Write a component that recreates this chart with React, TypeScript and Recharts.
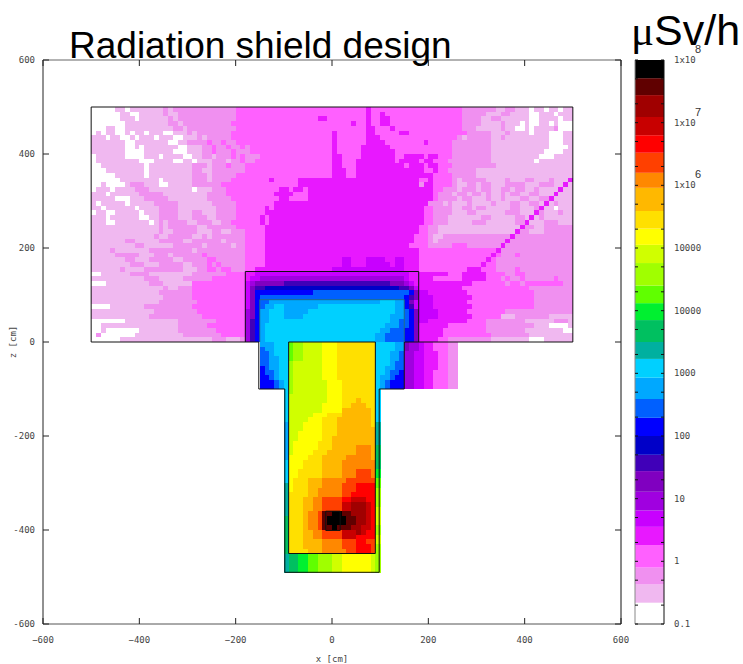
import { Bar, BarChart, Scatter, ScatterChart, XAxis, YAxis } from 'recharts';

// one letter per dose level, lowest dose first
const LEVEL_KEYS = 'abcdefghijklmnopqrstuvwxyzABCD';
const LEVEL_COLORS = [
  '#ffffff', '#f0b8f0', '#f090f0', '#ff60ff', '#e818ff', '#c800ff', '#a000e0', '#8000c0', '#4000b8', '#0000c8',
  '#0000ff', '#0060ff', '#00a8ff', '#00d0ff', '#00b0a0', '#00c060', '#00f030', '#60ff00', '#a0ff00', '#d0ff00',
  '#ffff00', '#ffe000', '#ffb800', '#ff8800', '#ff4000', '#ff0000', '#c80000', '#a00000', '#600000', '#000000',
];
// top of each colour band on the scale, in decades above 0.1
const LEVEL_TOPS = [
  0.34, 0.63, 0.9, 1.26, 1.55, 1.81, 2.11, 2.44, 2.7, 3.0, 3.29, 3.59, 3.93, 4.23, 4.5, 4.85, 5.12, 5.4, 5.76, 6.05,
  6.31, 6.59, 6.96, 7.2, 7.52, 7.8, 8.09, 8.44, 8.71, 9,
];

const AXIS_TICKS = [-600, -400, -200, 0, 200, 400, 600];
const SCALE_TICKS = [
  0, 0.301, 0.699, 1, 1.301, 1.699, 2, 2.301, 2.699, 3, 3.301, 3.699, 4, 4.301, 4.699, 5, 5.301, 5.699, 6, 6.301,
  6.699, 7, 7.301, 7.699, 8, 8.301, 8.699, 9,
];
const SCALE_LABELS: Record<number, [string, string?]> = {
  0: ['0.1'], 1: ['1'], 2: ['10'], 3: ['100'], 4: ['1000'], 5: ['10000'], 6: ['10000'],
  7: ['1x10', '6'], 8: ['1x10', '7'], 9: ['1x10', '8'],
};

// dose rows, run-length coded, left half | right half, 10 cm cells from z=500 down, x=-500 to the right
const UPPER_ROWS = [
  'a5b2a1b7c1b1c13d20|d7e1d19c7b2c2b3a1b2a1b2a1b3',
  'a6b2a2b5c1b2c12d20|d7e1d2e1d16c5b3c2b4a2b3a1b3',
  'a6b3a1b6c1b1c12d17e2d1|d7e1d2e2d15c4b2c2b6a2b4a1b2',
  'a7b9c2b1c10d20|d4e1d2e1d2e2d15c4b4c1b3a1b1a2b2a1b1a3',
  'a3b2a2b10c2b1c10d20|d7e2d3e1d14c3b5c1b2a2b1a1b4c1a3',
  'a1b1a1b2a2b1a1b2a1b3a2b3c1b1c7d21|e1d6e2d5e2d12c5b3c1b4a1b3a3b2',
  'b3a1b2a2b1a1b3a1b3a2b3c1b1c5d21|e1d6e3d16c1b1c5b2c1b9a3b9',
  'b7a2b7a2b2c4d1c2d1c2d20|e1d6e4d8e1d5c8b12a3b5',
  'b7a2b1a1b7a2b3c2d1c2d1c2d1c1d17|e1d5e6d13c8b12a4b9',
  'b7a4b6a3b3c2d1c3d1c3d17|e1d5e7d12c8b11a4b9',
  'a1b6a4b3a1b4a2b2c2b1c3d1c1d1c3d15|e2d4e7d2e4d1e2d3c8b10a3b9',
  'a1b9a3b4a2b2a1b3c3b1c2d1c2d16|e2d3e8d1e4d1e2d3c9b9a1b9',
  'a2b9a1b9c3b1c3d1c3d18|e2d3e10d1e3d1e2d3c9b9',
  'a3b8a1b9c2b2c7d18|e3d2e14d2e1d2c6b20',
  'a5b6a1b9c3b1c5d20|e3d2e16d4c5b20',
  'a6b8a1b6c3b1c4d8e1d5e7|e18d2e1d4c1b1c5b4c1b3c2b3c1b9',
  'a2b1a4b1c3b3a2b5c6d16e7|e18c1e2d4c1b2c2b1c2b3c4b3c3b9',
  'a1b3a1b4c3b9a1b3c3d11e2d1e2d1e5|e21d2c3b1c3b1c2b2c2b1c2b2c1b5',
  'b3a1b6c5b9c4d10e4d3e5|e21d1c3b1c2b1c2b1c1b2c1b1c2b2c2b4',
  'b5a3b3c5b8c5d10e2d4e6|e21d1c4b1c2b3c1b2c1b3c2b2c2b9',
  'b1a1b5a1b5c5b7c5d8e12|e20c3b1c1b3c1b4c1b3c2b2c2b3c1b9',
  'b2a1b6a1b4c4b8c4d6e1d1e12|e19d2c4b2c2b1c2b5c2b3c1b3a1b4',
  'a1b2a2b5a1b3c4b3c2b3c4d6e14|e19d2c4b3c2b6c3b4c1b3c1b9',
  'b3a1b6a2b2c4b3c3b2c4d5e1d1e13|e19d2c3b7c2b5c2b3c1b9',
  'b3a2b7a1b1c1b1c4b2c3b2c2d6e1d1e13|e19d2c3b5c3b6c2b4c3b9',
  'b14c1b1c6b2c6d6e14|e18d2c2b18c2b2c8',
  'b14c1b2c5b3c2b2c3d4e14|e18d2c2b17c2b3c8',
  'b13c1b2c5b2c1b1c7d4e14|e17d3c1b2c27',
  'b7c2b5c5b2c6b1c4d4e14|e17d3c1b1c28',
  'b9c2b6c6b1c5b1c2d4e14|e16d4c5d3c22',
  'b4c1b7c9b1c10d4e14|e18d16c16',
  'b5c5b3c3b1c6d1c8d4e14|e18d17c3d1c11',
  'b7c2b3c5b2c5d2c6d4e14|e2f2e3f4e2f2e3d16c16',
  'b8c3b3c5b2c3d1c1d1c5d4e14|e2f2e3f5e1f2e3d16c16',
  'b6c1b4c8b3c2d2c1d2c3d2e16|f15e3d10e3d3c4d1c11',
  'a2b6c4b9c7d4e2f16|f16e8d3e5d4c2d2c10',
  'b11c3b5c6d7e1f2g15|g15f1e5d6e5d3c1d1c2d1c6d1c5',
  'a3b9c3b6d11f1g1h6i10|i12h3g1f1e12d7c1d2c1d8c2',
  'b15c1b2c3d11f1h1i2j14|j14i2h1f1e9d14c9',
  'b14c7d11f1h1k12l4|l16k1h1f2e8d14c8',
  'b15c6d11f1h1k1l15|l15k1i1h1f3e8d13c9',
  'b14c8d10f1h1k1l2m13|m10n3m2k1h1f1f3e7d14c8',
  'a4b7c10d11f1h1k1l1m2n2m7n3|n13m2k1i1f1f3e8d13c8',
  'b13c9d10g1h1k1m2n3m5n5|n13m2l1k1h1f4e6d8c14',
  'b12c11d9g1h1k1m2n3m4n6|n12m3l1k1h1f4e7d6b3c7b5',
  'a7b11c8d6g1i1k1m2n13|n12m2l2k1h1f2e8d4c8b6c3b4',
  'a2b16c6d8g1i1k1m1n14|n11m3l2k1h1e6d8c10b3a4b3',
  'a2b1a7b8c8d6g1i1k1m1n14|n10m2l3k2h1e5d9c8b8a4b2',
  'a1c1a7b10c8d5g1i1k1m1n14|n9m2l4k2h1e5d10c8b10',
  'a6b19c3b3c1g1i1k1m1n14|n9m2l4k2h1e4d2c9b8a3b6',
];
// walls and tank below the floor, z=0 down to z=-490
const LOWER_ROWS = [
  '_35m3n3r1s2t4u2|u1v8n4m2h1g2f1e2d3c2_24',
  '_35l1m2n3r1s2t4u2|u1v8n4m2h1g2f1e2d3c2_24',
  '_35l2m1n3r1s2t4u2|u1v8n3m2l1g2f2e3d2c2_24',
  '_35l2m2n2r1s2t4u2|u1v8n3m2l1g2f2e3d2c2_24',
  '_35l2m2n2s1t6u2|u1v8n3m1l2g2f2e3d2c2_24',
  '_35k1l1m2n2s1t6u2|u1v8n2m2l2g2f2e3d2c2_24',
  '_35k1l2m1n2s1t6u2|u1v8n2m1l2k1g2f2e2d3c2_24',
  '_35k2l1m1n2s1t6u2|u1v8n1m2l1k2g2f2e2d3c2_24',
  '_35k3l1m1n1s1t7u1|u2v7n1m1l1k3g2f2e2d3c2_24',
  '_35k3l1m1n1s1t7u1|u2v7n1m1l1k3g2f2e2d3c2_24',
  '_40n1s1t7u1|u2v7n1_40',
  '_40n1t8u1|u2v7n1_40',
  '_40n1t8u1|u2v3w1v3n1_40',
  '_40n1t7u2|u2v2w3v2n1_40',
  '_40n1t7u2|u2w6v1n1_40',
  '_40n1t5u3v1|v2w6v1n1_40',
  '_40n1t4u3v2|v1w7v1n1_40',
  '_40m1t3u4v2|v1w7v1o1_40',
  '_40m1t3u4v2|v1w8o1_40',
  '_40m1t2u5v2|v1w8o1_40',
  '_40m1t2u5v2|w9o1_40',
  '_40m1t1u5v3|w9o1_40',
  '_40m1t1u5v3|w5x3w1p1_40',
  '_40m1t1u4v3w1|w5x3w1p1_40',
  '_40m1u4v3w2|w3x5w1p1_40',
  '_40n1u3v4w2|w2x7p1_40',
  '_40n1u3v4w2|w2x7p1_40',
  '_40n1u2v5w2|w2x3y3x1q1_40',
  '_40n1u2v5w2|w2x3y3x1q1_40',
  '_40n1u1v3w3x2|x3y6r1_40',
  '_40o1u1v3w3x2|x2y3z4r1_40',
  '_40o1u1v3w2x3|x2y3z4s1_40',
  '_40o1v4w2x3|x2y2z5s1_40',
  '_40o1v3w2x2y2|y2z2A3z2s1_40',
  '_40o1v3w2x2y2|y2A2B3A1z1s1_40',
  '_40o1v3w2x2y2|y2A2B3A1z1t1_40',
  '_40o1v3w1x2y1C2|D2C2B3A1z1t1_40',
  '_40p1v3w1x2y1C1D1|D3C2B2A1z1t1_40',
  '_40p1v3w1x2y1C1D1|D3C2B2A1z1t1_40',
  '_40p1v3w1x2y1C2|D1C3B2A2z1s1_40',
  '_40p1v3w2x2y2|y2A3B1A1z2s1_40',
  '_40p1v3w2x2y2|y2A3z4t1_40',
  '_40p1v3w4x2|x2y3z2y2t1_40',
  '_40p1v3w4x2|x2y3z3y1s1_40',
  '_40p1v4w3x2|x3y2z3y1s1_40',
  '_40o1p2q2r2s3|t2u6t1s1_40',
  '_40o1p2q2r2s3|t2u6t1s1_40',
  '_40o1p2q2r2s3|t2u6t1s1_40',
  '_40o1p2q2r2s3|t2u6t1s1_40',
];

// streaming beam in the upper right: first row, then the column hit in each row
const STREAM_FIRST_ROW = 15;
const STREAM_COLUMNS = [99, 98, 97, 96, 95, 94, 93, 92, 91, 90, 89, 88, 87, 86, 85, 84, 83, 82, 81, 80];

const SITE_OUTLINE = [
  { x: -500, z: 500 }, { x: 500, z: 500 }, { x: 500, z: 0 }, { x: 150, z: 0 }, { x: 150, z: -100 }, { x: 98, z: -100 },
  { x: 98, z: -490 }, { x: -98, z: -490 }, { x: -98, z: -100 }, { x: -152, z: -100 }, { x: -152, z: 0 }, { x: -500, z: 0 },
  { x: -500, z: 500 },
];
const ROOF_OUTLINE = [{ x: -180, z: 0 }, { x: -180, z: 150 }, { x: 180, z: 150 }, { x: 180, z: 0 }];
const LINER_OUTLINE = [{ x: -150, z: 0 }, { x: -150, z: 90 }, { x: 150, z: 90 }, { x: 150, z: 0 }];
const TANK_OUTLINE = [{ x: -90, z: 0 }, { x: 90, z: 0 }, { x: 90, z: -450 }, { x: -90, z: -450 }, { x: -90, z: 0 }];
const CORE_OUTLINE = [{ x: -13, z: -360 }, { x: 17, z: -360 }, { x: 17, z: -401 }, { x: -13, z: -401 }, { x: -13, z: -360 }];
const AXIS_ANCHOR = [{ x: 0, z: 0 }];

const CELL_W = 4.82;
const CELL_H = 4.7;

function expandHalf(text: string) {
  const cells: string[] = [];
  for (const m of text.matchAll(/([a-zA-Z_])(\d+)/g)) {
    for (let i = 0; i < Number(m[2]); i++) cells.push(m[1]);
  }
  while (cells.length < 50) cells.push(cells[cells.length - 1]);
  return cells.slice(0, 50);
}

function buildCells() {
  const cells: { x: number; z: number; level: string }[] = [];
  [...UPPER_ROWS, ...LOWER_ROWS].forEach((row, r) => {
    const [left, right] = row.split('|');
    const levels = [...expandHalf(left), ...expandHalf(right)];
    const streamCol = STREAM_COLUMNS[r - STREAM_FIRST_ROW];
    levels.forEach((level, c) => {
      if (level === '_') return;
      cells.push({ x: -495 + 10 * c, z: 495 - 10 * r, level: c === streamCol ? 'e' : level });
    });
  });
  return cells;
}

const doseCells = buildCells();

const scaleRow: Record<string, number | string> = { name: 'scale', span: 9 };
LEVEL_KEYS.split('').forEach((key, i) => {
  scaleRow[key] = LEVEL_TOPS[i] - (i === 0 ? 0 : LEVEL_TOPS[i - 1]);
});

const tickFont = { fontFamily: '"DejaVu Sans Mono"', fontSize: 9, fill: '#444' };

function DoseCell(props: any) {
  const color = LEVEL_COLORS[LEVEL_KEYS.indexOf(props.payload.level)];
  return (
    <rect
      x={props.cx - CELL_W / 2}
      y={props.cy - CELL_H / 2}
      width={CELL_W + 0.4}
      height={CELL_H + 0.4}
      fill={color}
      shapeRendering="crispEdges"
    />
  );
}

const NoDot = () => null;

function BottomTick({ x, y, payload }: any) {
  return (
    <g>
      <line x1={x} x2={x} y1={y} y2={y - 6} stroke="#222" />
      <text x={x} y={y + 19} textAnchor="middle" {...tickFont}>
        {payload.value < 0 ? `\u2212${-payload.value}` : payload.value}
      </text>
    </g>
  );
}
function LeftTick({ x, y, payload }: any) {
  return (
    <g>
      <line x1={x} x2={x + 6} y1={y} y2={y} stroke="#222" />
      <text x={x - 8} y={y + 3} textAnchor="end" {...tickFont}>
        {payload.value}
      </text>
    </g>
  );
}
const TopTick = ({ x, y }: any) => <line x1={x} x2={x} y1={y} y2={y + 6} stroke="#222" />;
const RightTick = ({ x, y }: any) => <line x1={x} x2={x - 6} y1={y} y2={y} stroke="#222" />;

function ScaleTick({ x, y, payload }: any) {
  const label = SCALE_LABELS[payload.value];
  return (
    <g>
      <line x1={x} x2={x - 3} y1={y} y2={y} stroke="#111" />
      <line x1={x - 29} x2={x - 26} y1={y} y2={y} stroke="#111" />
      {label && (
        <text x={x + 10} y={y + 3} {...tickFont}>
          {label[0]}
        </text>
      )}
      {label && label[1] && (
        <text x={x + 31} y={y - 7} fontFamily='"Liberation Sans"' fontSize={11} fill="#333">
          {label[1]}
        </text>
      )}
    </g>
  );
}

export default function App() {
  return (
    <div style={{ position: 'absolute', left: 0, top: 0, width: 743, height: 664, background: '#fff' }}>
      <ScatterChart width={743} height={664} margin={{ top: 0, right: 0, bottom: 0, left: 0 }} style={{ position: 'absolute', left: 0, top: 0 }}>
        <XAxis
          dataKey="x"
          type="number"
          domain={[-600, 600]}
          ticks={AXIS_TICKS}
          interval={0}
          height={40}
          tickSize={0}
          tickMargin={0}
          tickLine={false}
          tick={BottomTick}
          axisLine={{ stroke: '#555' }}
          label={{ value: 'x [cm]', position: 'insideBottom', offset: 2, style: tickFont }}
        />
        <YAxis
          dataKey="z"
          type="number"
          domain={[-600, 600]}
          ticks={AXIS_TICKS}
          interval={0}
          width={43}
          tickSize={0}
          tickMargin={0}
          tickLine={false}
          tick={LeftTick}
          axisLine={{ stroke: '#222' }}
          label={{ value: 'z [cm]', angle: -90, position: 'insideLeft', offset: 13, style: { ...tickFont, textAnchor: 'middle' } }}
        />
        <XAxis
          xAxisId="top"
          dataKey="x"
          orientation="top"
          type="number"
          domain={[-600, 600]}
          ticks={AXIS_TICKS}
          interval={0}
          height={60}
          tickSize={0}
          tickMargin={0}
          tickLine={false}
          tick={TopTick}
          axisLine={{ stroke: '#666' }}
        />
        <YAxis
          yAxisId="right"
          dataKey="z"
          orientation="right"
          type="number"
          domain={[-600, 600]}
          ticks={AXIS_TICKS}
          interval={0}
          width={122}
          tickSize={0}
          tickMargin={0}
          tickLine={false}
          tick={RightTick}
          axisLine={{ stroke: '#111' }}
        />
        <Scatter xAxisId="top" yAxisId="right" data={AXIS_ANCHOR} shape={NoDot} isAnimationActive={false} />
        <Scatter data={doseCells} shape={DoseCell} isAnimationActive={false} />
        <Scatter data={SITE_OUTLINE} line={{ stroke: '#111', strokeWidth: 1 }} lineType="joint" shape={NoDot} isAnimationActive={false} />
        <Scatter data={LINER_OUTLINE} line={{ stroke: '#1f6f8a', strokeWidth: 1 }} lineType="joint" shape={NoDot} isAnimationActive={false} />
        <Scatter data={ROOF_OUTLINE} line={{ stroke: '#111', strokeWidth: 1 }} lineType="joint" shape={NoDot} isAnimationActive={false} />
        <Scatter data={TANK_OUTLINE} line={{ stroke: '#111', strokeWidth: 1 }} lineType="joint" shape={NoDot} isAnimationActive={false} />
        <Scatter data={CORE_OUTLINE} line={{ stroke: '#111', strokeWidth: 1 }} lineType="joint" shape={NoDot} isAnimationActive={false} />
      </ScatterChart>

      {/* colour bands */}
      <BarChart
        width={143}
        height={664}
        data={[scaleRow]}
        barCategoryGap={0}
        margin={{ top: 60, right: 79, bottom: 40, left: 35 }}
        style={{ position: 'absolute', left: 600, top: 0 }}
      >
        <XAxis dataKey="name" hide />
        <YAxis type="number" domain={[0, 9]} hide />
        {LEVEL_KEYS.split('').map((key, i) => (
          <Bar key={key} dataKey={key} stackId="scale" fill={LEVEL_COLORS[i]} isAnimationActive={false} />
        ))}
      </BarChart>

      {/* scale frame, ticks and labels sit over the bands */}
      <BarChart
        width={143}
        height={664}
        data={[scaleRow]}
        barCategoryGap={0}
        margin={{ top: 60, right: 0, bottom: 0, left: 0 }}
        style={{ position: 'absolute', left: 600, top: 0 }}
      >
        <XAxis dataKey="name" height={40} tick={false} tickLine={false} axisLine={{ stroke: '#444' }} />
        <YAxis yAxisId="left" type="number" domain={[0, 9]} width={35} tick={false} tickLine={false} axisLine={{ stroke: '#888' }} />
        <YAxis
          yAxisId="right"
          orientation="right"
          type="number"
          domain={[0, 9]}
          ticks={SCALE_TICKS}
          interval={0}
          width={79}
          tickSize={0}
          tickMargin={0}
          tickLine={false}
          tick={ScaleTick}
          axisLine={{ stroke: '#111' }}
        />
        <Bar yAxisId="right" dataKey="span" fill="none" isAnimationActive={false} />
      </BarChart>

      <div style={{ position: 'absolute', left: 69, top: 25, font: '37px "Liberation Sans"', color: '#000', whiteSpace: 'nowrap' }}>
        Radiation shield design
      </div>
      <div style={{ position: 'absolute', left: 631, top: 6, font: '43px "Liberation Sans"', color: '#000', whiteSpace: 'nowrap' }}>
        <span style={{ fontFamily: '"Liberation Serif"' }}>μ</span>Sv/h
      </div>
    </div>
  );
}
